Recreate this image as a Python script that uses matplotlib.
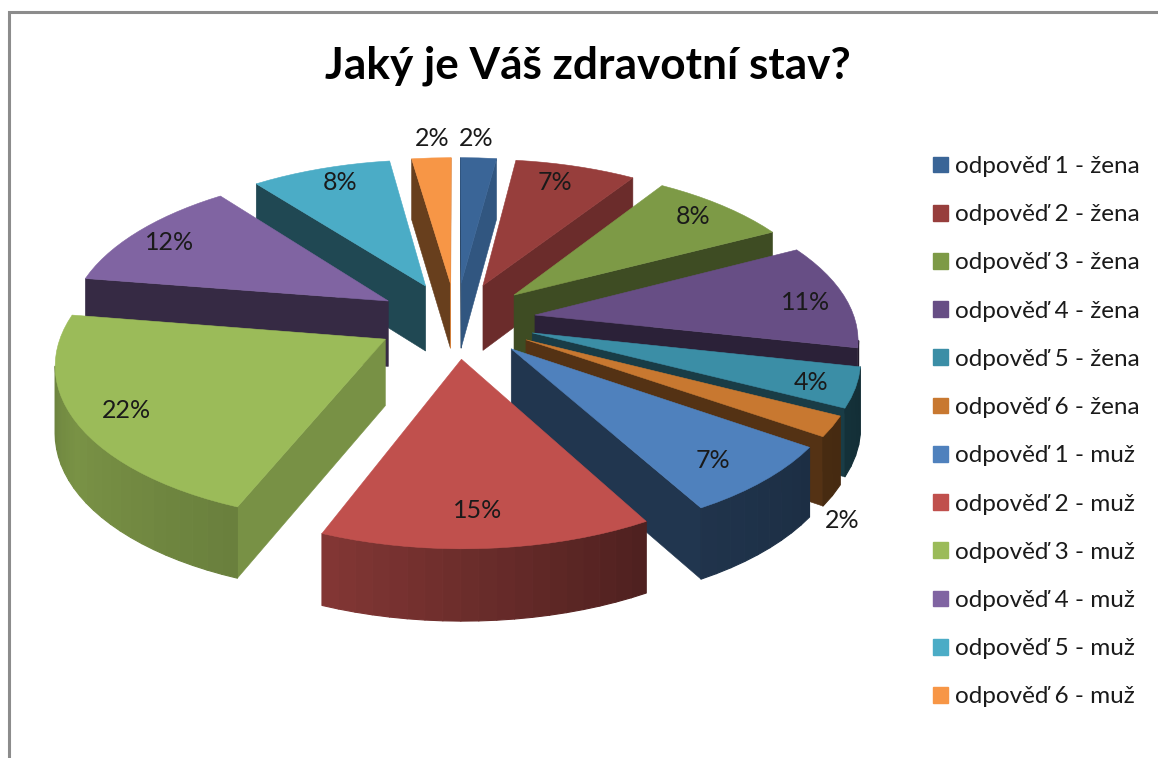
import numpy as np
import matplotlib
matplotlib.use("Agg")
import matplotlib.pyplot as plt
import matplotlib.patches as mpatches
from matplotlib.collections import PolyCollection

labels = ["odpověď 1 - žena", "odpověď 2 - žena", "odpověď 3 - žena",
          "odpověď 4 - žena", "odpověď 5 - žena", "odpověď 6 - žena",
          "odpověď 1 - muž", "odpověď 2 - muž", "odpověď 3 - muž",
          "odpověď 4 - muž", "odpověď 5 - muž", "odpověď 6 - muž"]
# printed percentages
percents = [2, 7, 8, 11, 4, 2, 7, 15, 22, 12, 8, 2]
# slice sizes, the 3d view skews them a bit
shares = [2.1, 7.1, 8.2, 11.0, 4.1, 2.1, 7.3, 14.1, 21.5, 12.0, 8.2, 2.3]
colors = ["#3A6597", "#973E3C", "#7D9A46", "#674E85", "#3B8EA6", "#C87830",
          "#4F81BD", "#C0504D", "#9BBB59", "#8064A2", "#4BACC6", "#F79646"]

# where the percent labels sit, in pixels
label_xy = [(476, 138), (555, 183), (693, 217), (806, 302), (811, 383), (842, 521),
            (713, 460), (478, 510), (126, 411), (170, 243), (340, 183), (432, 139)]

# fake 3d camera, fitted by eye
cx, cy = 456, 320
A, B, H = 320, 152, 66
persp = 0.136
persp_h = 0.07
explode = 0.25


def project(x, y, down=0.0):
    w = 1 + persp * y
    return np.column_stack([cx + A * x / w, cy - B * y / w + H * down / (1 + persp_h * y)])


def side_shade(n):
    # radial faces, n = clockwise angle of the normal
    n = n % 360
    return np.interp(n, [0, 97, 122, 150, 190, 360], [0.85, 0.85, 0.72, 0.5, 0.42, 0.42])


def wall_shade(t):
    return np.interp(t % 360, [90, 150, 201, 240, 285, 360], [0.3, 0.4, 0.68, 0.78, 0.6, 0.5])


def scale(col, k):
    return tuple(np.array(matplotlib.colors.to_rgb(col)) * k)


def area(p):
    x, y = p[:, 0], p[:, 1]
    return 0.5 * np.sum(x * np.roll(y, -1) - np.roll(x, -1) * y)


fig = plt.figure(figsize=(11.58, 7.58), dpi=100)
ax = fig.add_axes([0, 0, 1, 1])
ax.set_xlim(0, 1158)
ax.set_ylim(758, 0)
ax.axis("off")
plt.rcParams["font.family"] = ["Lato", "DejaVu Sans"]

ax.plot([8.5, 8.5, 1158], [758, 12, 12], color="#8C8C8C", lw=2.2, solid_joinstyle="miter")

cum = np.concatenate([[0], np.cumsum(shares)]) / sum(shares) * 360
mids = (cum[:-1] + cum[1:]) / 2
order = np.argsort(-np.cos(np.radians(mids)))

for i in order:
    t0, t1 = cum[i], cum[i + 1]
    ex = explode * np.sin(np.radians(mids[i]))
    ey = explode * np.cos(np.radians(mids[i]))
    ts = np.linspace(t0, t1, max(int((t1 - t0) / 2.5), 3))
    ox = ex + np.sin(np.radians(ts))
    oy = ey + np.cos(np.radians(ts))

    # radial faces first, only the ones turned to the viewer
    for t, n, sign in ((t0, t0 - 90, -1), (t1, t1 + 90, 1)):
        x = np.array([ex, ex + np.sin(np.radians(t))])
        y = np.array([ey, ey + np.cos(np.radians(t))])
        quad = np.vstack([project(x, y), project(x[::-1], y[::-1], 1)])
        if area(quad) * sign > 0:
            ax.add_patch(plt.Polygon(quad, closed=True, fc=scale(colors[i], side_shade(n)),
                                     ec=scale(colors[i], side_shade(n)), lw=0.4))

    # outer wall in thin strips for the gradient
    quads, cols = [], []
    for j in range(len(ts) - 1):
        quad = np.vstack([project(ox[j:j + 2], oy[j:j + 2]),
                          project(ox[j:j + 2][::-1], oy[j:j + 2][::-1], 1)])
        if area(quad) < 0:
            quads.append(quad)
            cols.append(scale(colors[i], wall_shade((ts[j] + ts[j + 1]) / 2)))
    if quads:
        ax.add_collection(PolyCollection(quads, facecolors=cols, edgecolors=cols, linewidths=0.8))

    top = np.vstack([project(np.array([ex]), np.array([ey])), project(ox, oy)])
    ax.add_patch(plt.Polygon(top, closed=True, fc=colors[i], ec=colors[i], lw=0.4))

for v, (lx, ly) in zip(percents, label_xy):
    ax.text(lx, ly, f"{v}%", ha="center", va="center", fontsize=18, color="#1A1A1A")

ax.text(587.5, 66, "Jaký je Váš zdravotní stav?", ha="center", va="center",
        fontsize=31.8, fontweight="bold", color="black")

handles = [mpatches.Patch(color=c, label=l) for c, l in zip(colors, labels)]
ax.legend(handles=handles, loc="upper left", bbox_to_anchor=(933 / 1158, 1 - 156 / 758),
          frameon=False, fontsize=17.5, handlelength=0.62, handleheight=0.62,
          handletextpad=0.29, labelspacing=1.12, borderpad=0, borderaxespad=0,
          labelcolor="#1A1A1A")

plt.savefig("out.png", dpi=100)
